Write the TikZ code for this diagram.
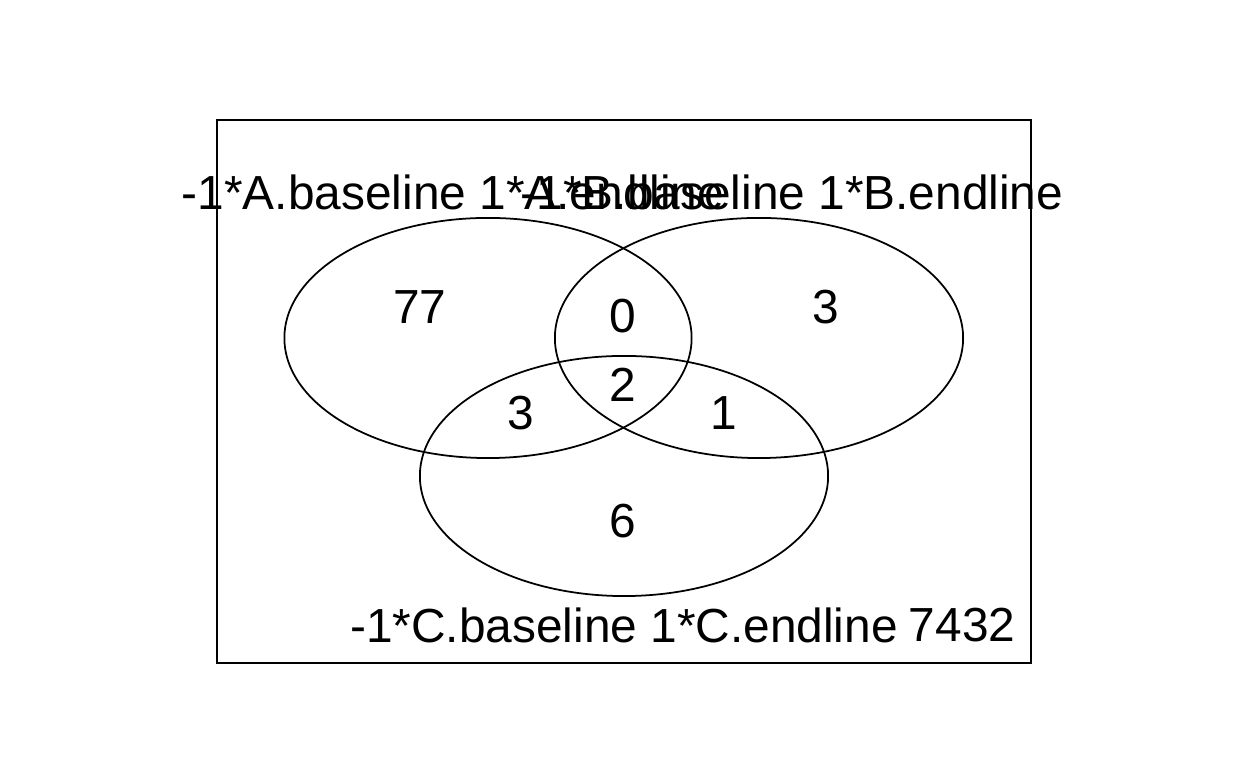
\documentclass[tikz,border=0pt]{standalone}
\usepackage{fontspec}
\setmainfont{Liberation Sans}
\tikzset{
  setline/.style={line width=0.5pt},
  countlabel/.style={inner sep=0pt, font=\fontsize{13.6}{16}\selectfont},
}
\begin{document}
\begin{tikzpicture}[x=0.01cm, y=-0.01cm]
    \useasboundingbox (0,0) rectangle (1248,768);

    % Frame
    \draw[setline] (217,120) rectangle (1031,663);

    % Sets
    \draw[setline] (488,338) ellipse [x radius=2.035cm, y radius=1.2cm];
    \draw[setline] (759,338) ellipse [x radius=2.04cm, y radius=1.2cm];
    \draw[setline] (624,476) ellipse [x radius=2.04cm, y radius=1.2cm];

    % Set names
    \node[countlabel] (nameA) at (453,192) {-1*A.baseline 1*A.endline};
    \node[countlabel] (nameB) at (792,192) {-1*B.baseline 1*B.endline};
    \node[countlabel] (nameC) at (624,625) {-1*C.baseline 1*C.endline};
    \node[countlabel, anchor=east] (outside) at (1016,625) {7432};

    % Counts
    \node[countlabel] (onlyA) at (420,307) {77};
    \node[countlabel] (AB) at (623,316) {0};
    \node[countlabel] (onlyB) at (826,307) {3};
    \node[countlabel] (ABC) at (623,385) {2};
    \node[countlabel] (AC) at (521,413) {3};
    \node[countlabel] (BC) at (724,413) {1};
    \node[countlabel] (onlyC) at (623,521) {6};
\end{tikzpicture}
\end{document}
